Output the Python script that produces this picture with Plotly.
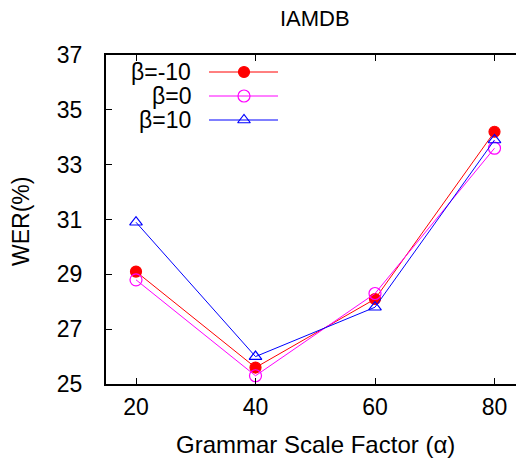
import plotly.graph_objects as go

alpha = [20, 40, 60, 80]
wer_beta_m10 = [29.1, 25.6, 28.1, 34.2]
wer_beta_0 = [28.8, 25.3, 28.3, 33.6]
wer_beta_10 = [30.9, 26.0, 27.8, 33.9]
series_names = ["β=-10", "β=0", "β=10"]
y_ticks = [25, 27, 29, 31, 33, 35, 37]
x_ticks = [20, 40, 60, 80]

W, H = 516, 461
L, R, T, B = 106, 0, 55, 77
FONT = "Liberation Sans, Arial, sans-serif"
FS = 23

styles = [
    dict(color="#ff0000", symbol="circle", size=11),
    dict(color="#ff00ff", symbol="circle-open", size=12),
    dict(color="#0000ff", symbol="triangle-up-open", size=11),
]
data = [wer_beta_m10, wer_beta_0, wer_beta_10]

fig = go.Figure()
for name, ys, st in zip(series_names, data, styles):
    fig.add_trace(go.Scatter(
        x=alpha, y=ys, mode="lines+markers", name=name, showlegend=False,
        line=dict(color=st["color"], width=1),
        marker=dict(symbol=st["symbol"], size=st["size"], color=st["color"],
                    line=dict(color=st["color"], width=1.2)),
        cliponaxis=False,
    ))

# custom legend (text right-aligned, sample to the right), in pixel coords of the plot area
leg_rows = [72, 96, 120]
for name, st, yy in zip(series_names, styles, leg_rows):
    fig.add_trace(go.Scatter(
        x=[209, 244, 278], y=[yy, yy, yy], xaxis="x2", yaxis="y2",
        mode="lines", line=dict(color=st["color"], width=1), showlegend=False, hoverinfo="skip"))
    fig.add_trace(go.Scatter(
        x=[244], y=[yy], xaxis="x2", yaxis="y2", mode="markers", showlegend=False,
        marker=dict(symbol=st["symbol"], size=st["size"], color=st["color"],
                    line=dict(color=st["color"], width=1.2)), hoverinfo="skip"))
    fig.add_annotation(x=193, y=yy, xref="x2", yref="y2", text=name, showarrow=False,
                       xanchor="right", yanchor="middle",
                       font=dict(family=FONT, size=FS, color="black"))


def px2paper(px, py):
    return (px - L) / (W - L - R), (H - B - py) / (H - T - B)


for txt, (px, py), ang, fs in [("IAMDB", (315, 18), 0, 22),
                               ("Grammar Scale Factor (α)", (315, 444), 0, 24),
                               ("WER(%)", (21, 222), -90, FS)]:
    xp, yp = px2paper(px, py)
    fig.add_annotation(x=xp, y=yp, xref="paper", yref="paper", text=txt, showarrow=False,
                       xanchor="center", yanchor="middle", textangle=ang,
                       font=dict(family=FONT, size=fs, color="black"))

px_per_unit = 119.5 / 20
x_lo = 20 - (136 - L) / px_per_unit
x_hi = x_lo + (W - L - R) / px_per_unit

fig.update_layout(
    width=W, height=H,
    margin=dict(l=L, r=R, t=T, b=B, pad=0),
    paper_bgcolor="white", plot_bgcolor="white",
    font=dict(family=FONT, color="black"),
    xaxis=dict(range=[x_lo, x_hi], tickvals=x_ticks, ticks="inside", ticklen=6,
               tickcolor="black", showline=True, linecolor="black", linewidth=2,
               mirror="ticks", showgrid=False, zeroline=False, automargin=False,
               tickfont=dict(family=FONT, size=FS), ticklabelstandoff=1),
    yaxis=dict(range=[25, 37], tickvals=y_ticks, ticks="inside", ticklen=6,
               tickcolor="black", showline=True, linecolor="black", linewidth=2,
               showgrid=False, zeroline=False, automargin=False,
               tickfont=dict(family=FONT, size=FS), ticklabelstandoff=17),
    xaxis2=dict(range=[L, W - R], overlaying="x", visible=False, fixedrange=True),
    yaxis2=dict(range=[H - B, T], overlaying="y", visible=False, fixedrange=True),
)

fig.write_html("out.html", config={"displayModeBar": False},
               post_script="document.body.style.margin='0';document.body.style.overflow='hidden';")
